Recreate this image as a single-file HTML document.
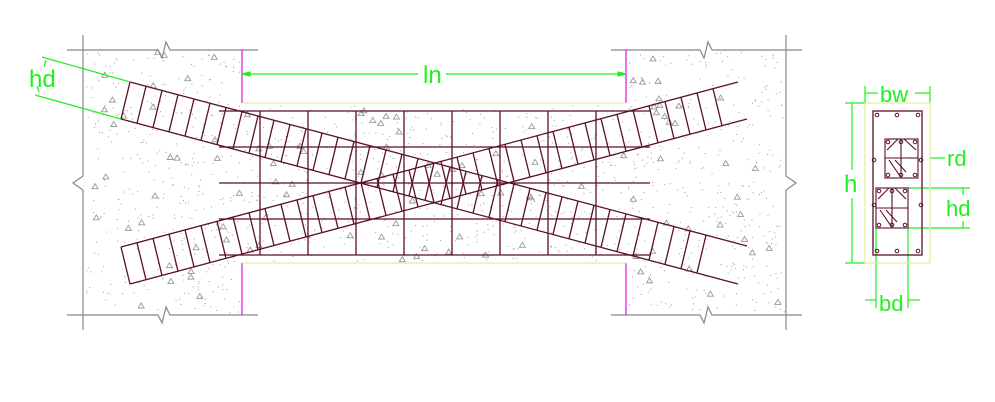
<!DOCTYPE html>
<html><head><meta charset="utf-8"><style>
html,body{margin:0;padding:0;background:#fff;}
svg{display:block;}
text{font-family:"Liberation Sans",sans-serif;fill:#22ee22;}
</style></head><body>
<svg id="dwg" width="995" height="402" viewBox="0 0 995 402" xmlns="http://www.w3.org/2000/svg">
<g id="speckle"></g>
<g stroke="#888" stroke-width="1.2" fill="none">
  <polyline points="67,50 158,50 162,58 166,42 170,50 258,50"/>
  <polyline points="67,315 158,315 162,323 166,307 170,315 258,315"/>
  <polyline points="83,35 83,176 73,183 83,190 83,330"/>
</g>
<g stroke="#888" stroke-width="1.2" fill="none">
  <polyline points="611,50 700,50 704,58 708,42 712,50 802,50"/>
  <polyline points="611,315 700,315 704,323 708,307 712,315 802,315"/>
  <polyline points="786,35 786,176 796,183 786,190 786,330"/>
</g>
<g stroke="#e020e0" stroke-width="1.3">
  <line x1="242" y1="50" x2="242" y2="103"/><line x1="242" y1="263" x2="242" y2="315"/>
  <line x1="626" y1="50" x2="626" y2="103"/><line x1="626" y1="263" x2="626" y2="315"/>
</g>
<g stroke="#e4ee90" stroke-width="1.3">
  <line x1="242" y1="103" x2="626" y2="103"/><line x1="242" y1="263" x2="626" y2="263"/>
</g>
<g id="rebar" stroke="#5a0f2a" stroke-width="1.3" fill="none"></g>
<g stroke="#22ee22" stroke-width="1.2" fill="none">
  <line x1="42" y1="57" x2="130" y2="82"/><line x1="35" y1="95" x2="121" y2="119"/>
  <line x1="46" y1="60" x2="44" y2="67"/><line x1="39" y1="92" x2="37" y2="86"/>
  <line x1="242" y1="74" x2="418" y2="74"/><line x1="446" y1="74" x2="626" y2="74"/>
  <polygon points="242,74 250,72 250,76" fill="#22ee22"/><polygon points="626,74 618,72 618,76" fill="#22ee22"/>
  <line x1="865" y1="93" x2="878" y2="93"/><line x1="915" y1="93" x2="930" y2="93"/>
  <line x1="865" y1="86" x2="865" y2="103"/><line x1="930" y1="86" x2="930" y2="103"/>
  <line x1="845" y1="103" x2="865" y2="103"/><line x1="845" y1="263" x2="865" y2="263"/>
  <line x1="852" y1="103" x2="852" y2="170"/><line x1="852" y1="198" x2="852" y2="263"/>
  <line x1="929" y1="158" x2="945" y2="158"/><line x1="908" y1="158" x2="918" y2="158"/>
  <line x1="908" y1="188" x2="970" y2="188"/><line x1="908" y1="228" x2="970" y2="228"/>
  <line x1="963" y1="188" x2="963" y2="195"/><line x1="963" y1="221" x2="963" y2="228"/>
  <line x1="876" y1="228" x2="876" y2="308"/><line x1="908" y1="228" x2="908" y2="308"/>
  <line x1="865" y1="300" x2="876" y2="300"/><line x1="908" y1="300" x2="920" y2="300"/>
</g>
<text x="29" y="87" font-size="24">hd</text>
<text x="423" y="83" font-size="24">ln</text>
<text x="880" y="102" font-size="22">bw</text>
<text x="844" y="192" font-size="24">h</text>
<text x="947" y="166" font-size="22">rd</text>
<text x="946" y="216" font-size="22">hd</text>
<text x="879" y="311" font-size="22">bd</text>
<g fill="none">
  <rect x="865" y="103" width="65" height="160" stroke="#e4ee90" stroke-width="1.2"/>
  <rect x="873" y="111" width="49" height="144" stroke="#5a0f2a" stroke-width="1.3"/>
  <g stroke="#5a0f2a" stroke-width="1.1">
    <rect x="885" y="139" width="33" height="39"/>
    <line x1="885" y1="158" x2="918" y2="158"/><line x1="901" y1="139" x2="901" y2="178"/>
    <polyline points="887,150 898,139 904,139 916,150"/>
    <line x1="889" y1="160" x2="900" y2="176"/><line x1="895" y1="160" x2="906" y2="172"/>
    <rect x="876" y="188" width="32" height="40"/>
    <line x1="876" y1="208" x2="908" y2="208"/><line x1="892" y1="188" x2="892" y2="228"/>
    <polyline points="878,199 889,188 895,188 906,199"/>
    <line x1="880" y1="210" x2="891" y2="226"/><line x1="886" y1="210" x2="897" y2="222"/>
  </g>
  <g stroke="#5a0f2a" stroke-width="1" id="dots"></g>
</g>
</svg>
<script>
(function(){
var NS='http://www.w3.org/2000/svg';
function mk(p,t,a){var e=document.createElementNS(NS,t);for(var k in a){e.setAttribute(k,String(a[k]));}p.appendChild(e);return e;}
var rb=document.getElementById('rebar');
var ys=[111,147,183,219,255];
for(var i=0;i<ys.length;i++){
  var l=mk(rb,'line',{x1:219,y1:ys[i],x2:650,y2:ys[i]});
  
  
}
for(var x=260;x<=610;x+=48){
  var v=mk(rb,'line',{x1:x,y1:111,x2:x,y2:255});
  
  
}
function band(t0,t1,b0,b1,dir){
  mk(rb,'line',{x1:t0[0],y1:t0[1],x2:t1[0],y2:t1[1]});
  mk(rb,'line',{x1:b0[0],y1:b0[1],x2:b1[0],y2:b1[1]});
  mk(rb,'line',{x1:t0[0],y1:t0[1],x2:b0[0],y2:b0[1]});
  var st=(t1[1]-t0[1])/(t1[0]-t0[0]), sb=(b1[1]-b0[1])/(b1[0]-b0[0]);
  for(var x=t0[0]+16;x<=720;x+=16){
    var xb=x-9*dir;
    var d=mk(rb,'line',{x1:x,y1:t0[1]+st*(x-t0[0]),x2:xb,y2:b0[1]+sb*(xb-b0[0])});
    
    
  }
}
band([130,82],[747,246],[121,119],[738,284],1);
band([121,247],[738,82],[130,284],[747,119],-1);
var dg=document.getElementById('dots');
var pts=[[877,115],[918,115],[897,115],[877,251],[918,251],[897,251],[874,160],[921,160],[874,205],[921,205],
 [888,142],[915,142],[901,142],[888,175],[915,175],[901,175],[879,191],[905,191],[892,191],[879,225],[905,225],[892,225]];
for(var j=0;j<pts.length;j++){mk(dg,'circle',{cx:pts[j][0],cy:pts[j][1],r:1.8});}
var sp=document.getElementById('speckle');var s=7;
function r(){s=(s*16807)%2147483647;return s/2147483647;}
var regions=[[86,52,240,313],[628,52,784,313],[244,105,624,261]];
for(var g=0;g<regions.length;g++){
  var R=regions[g];
  var area=(R[2]-R[0])*(R[3]-R[1]);
  for(var i2=0;i2<area/120;i2++){mk(sp,'rect',{x:R[0]+r()*(R[2]-R[0]),y:R[1]+r()*(R[3]-R[1]),width:1,height:1,fill:'#999'});}
  for(var k=0;k<area/1300;k++){var px=R[0]+r()*(R[2]-R[0]),py=R[1]+r()*(R[3]-R[1]);
    mk(sp,'polygon',{points:px+','+(py-3)+' '+(px+3)+','+(py+2)+' '+(px-3)+','+(py+2),fill:'none',stroke:'#999','stroke-width':0.9});}
}
})();
</script>
</body></html>
